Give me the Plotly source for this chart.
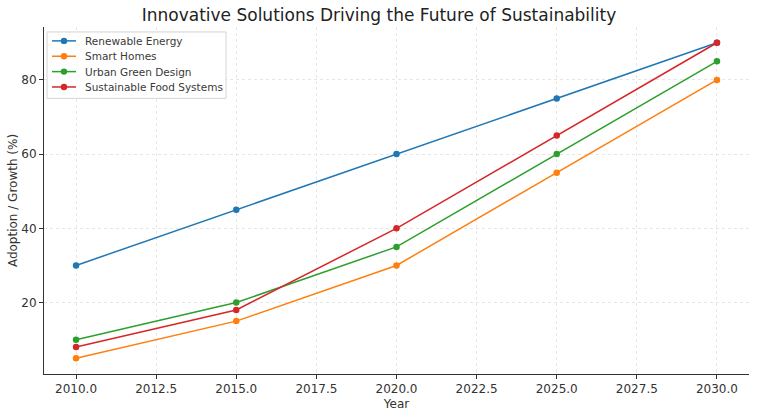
import plotly.graph_objects as go

years = [2010, 2015, 2020, 2025, 2030]
renewable = [30, 45, 60, 75, 90]
smart_homes = [5, 15, 30, 55, 80]
urban_green = [10, 20, 35, 60, 85]
food_systems = [8, 18, 40, 65, 90]

series_names = ["Renewable Energy", "Smart Homes", "Urban Green Design", "Sustainable Food Systems"]
series_values = [renewable, smart_homes, urban_green, food_systems]
series_colors = ["#1f77b4", "#ff7f0e", "#2ca02c", "#d62728"]

W, H = 758, 418
ML, MR, MT, MB = 44, 9, 27, 41
PW, PH = W - ML - MR, H - MT - MB

def px_x(X):
    return (X - ML) / PW

def px_y(Y):
    return (H - MB - Y) / PH

fig = go.Figure()
for name, vals, color in zip(series_names, series_values, series_colors):
    fig.add_trace(go.Scatter(
        x=years, y=vals, name=name, mode="lines+markers",
        line=dict(color=color, width=1.5),
        marker=dict(color=color, size=6.5),
        showlegend=False,
    ))

axis_common = dict(
    showgrid=True, gridcolor="#e6e6e6", griddash="dot", gridwidth=1,
    zeroline=False, showline=True, linecolor="#333333", linewidth=1,
    ticks="outside", ticklen=4, tickcolor="#333333",
    tickfont=dict(family="DejaVu Sans", size=12, color="#333333"),
)

# Legend drawn as a compact box (matplotlib-like spacing)
shapes = [dict(type="rect", xref="paper", yref="paper",
               x0=px_x(47), x1=px_x(226), y0=px_y(99), y1=px_y(32),
               line=dict(color="#d4d4d4", width=1), fillcolor="rgba(255,255,255,0.85)",
               layer="above")]
annotations = []
for i, (name, color) in enumerate(zip(series_names, series_colors)):
    yc = 41 + i * 15.5
    shapes.append(dict(type="line", xref="paper", yref="paper",
                       x0=px_x(52), x1=px_x(76), y0=px_y(yc), y1=px_y(yc),
                       line=dict(color=color, width=1.5), layer="above"))
    shapes.append(dict(type="circle", xref="paper", yref="paper",
                       x0=px_x(60.8), x1=px_x(67.2), y0=px_y(yc + 3.2), y1=px_y(yc - 3.2),
                       line=dict(color=color, width=0), fillcolor=color, layer="above"))
    annotations.append(dict(xref="paper", yref="paper", x=px_x(83), y=px_y(yc),
                            xanchor="left", yanchor="middle", showarrow=False,
                            text=name, font=dict(family="DejaVu Sans", size=10.5, color="#3a3a3a")))

fig.update_layout(
    width=W, height=H,
    margin=dict(l=ML, r=MR, t=MT, b=MB),
    paper_bgcolor="white", plot_bgcolor="white",
    font=dict(family="DejaVu Sans", color="#333333"),
    title=dict(text="Innovative Solutions Driving the Future of Sustainability",
               x=0.5, xanchor="center", y=1 - 15 / H, yanchor="middle",
               font=dict(size=17, family="DejaVu Sans", color="#222222")),
    xaxis=dict(range=[2009, 2031], tickvals=[2010, 2012.5, 2015, 2017.5, 2020, 2022.5, 2025, 2027.5, 2030],
               ticktext=["2010.0", "2012.5", "2015.0", "2017.5", "2020.0", "2022.5", "2025.0", "2027.5", "2030.0"],
               title=dict(text="Year", font=dict(size=12, family="DejaVu Sans", color="#333333"), standoff=4),
               **axis_common),
    yaxis=dict(range=[0.75, 94.25], tickvals=[20, 40, 60, 80],
               title=dict(text="Adoption / Growth (%)", font=dict(size=12, family="DejaVu Sans", color="#333333"), standoff=1),
               **axis_common),
    shapes=shapes,
    annotations=annotations,
    showlegend=False,
)

fig.write_html("out.html")
